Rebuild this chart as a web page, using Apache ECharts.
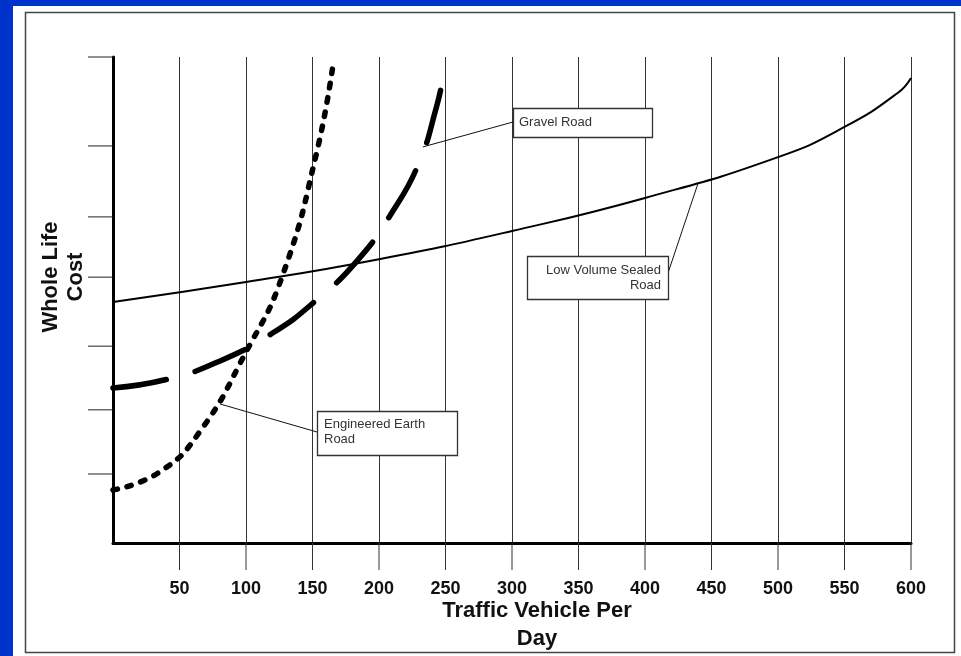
<!DOCTYPE html>
<html><head><meta charset="utf-8">
<script src="https://cdn.jsdelivr.net/npm/echarts@6/dist/echarts.min.js"></script>
<style>html,body{margin:0;padding:0;background:#0033cc}#c{width:961px;height:656px}</style>
</head><body><div id="c"></div>
<script>
// ---- data (x: vehicles/day, y: relative whole life cost 0..100) ----
const xTicks = [50,100,150,200,250,300,350,400,450,500,550,600];
const yTicks = [14.2,27.4,40.5,54.7,67.1,81.7,100];

const sealedX = [0,100,200,300,400,500,550,590,600];
const sealedY = [49.6,53.7,58.4,64.2,71.0,79.4,85.6,92.6,95.7];

const gravelX = [0,41,80,120,153,184,210,230,243,248];
const gravelY = [31.9,33.7,37.4,43.2,50.0,58.2,68.1,78.2,89.5,95.5];

const earthX = [0,35,65,100,127,153,166];
const earthY = [10.9,14.6,22.8,39.3,54.7,80.2,99.5];

const notes = [
  {text:'Gravel Road', at:[233,81.5], box:[513,108,139,29], from:[513,122], align:'left', pad:[6,14.5]},
  {text:'Low Volume Sealed\nRoad', at:[440,74.1], box:[527,256,141,43], from:[668,273], align:'right', pad:[134,22]},
  {text:'Engineered Earth\nRoad', at:[80.5,28.6], box:[317,411,140,44], from:[317,432], align:'left', pad:[7,21]}
];

const FONT = '"Liberation Sans", Arial, sans-serif';
const chart = echarts.init(document.getElementById('c'), null, {renderer:'canvas'});

const pairs = (xs, ys) => xs.map((x,i)=>[x, ys[i]]);

const option = {
  backgroundColor:'#0033cc',
  animation:false,
  grid:{left:113, right:50, top:57, bottom:113},
  xAxis:{
    type:'value', min:0, max:600, interval:50,
    axisLine:{show:true, onZero:false, lineStyle:{color:'#000', width:3}},
    axisTick:{show:false},
    axisLabel:{show:true, margin:37, fontFamily:FONT, fontWeight:'bold', fontSize:18, color:'#111',
      formatter:v=> v===0 ? '' : String(v), showMaxLabel:true},
    splitLine:{show:true, lineStyle:{color:'#333', width:1}}
  },
  yAxis:{
    type:'value', min:0, max:100,
    axisLine:{show:true, onZero:false, lineStyle:{color:'#000', width:3}},
    axisTick:{show:false}, axisLabel:{show:false}, splitLine:{show:false}
  },
  series:[
    {type:'custom', clip:false, silent:true, z:1,
      data: xTicks.map(x=>[x,0]),
      renderItem:(p,api)=>{const c=api.coord([api.value(0),api.value(1)]);
        return {type:'line', shape:{x1:c[0],y1:c[1],x2:c[0],y2:c[1]+27}, style:{stroke:'#333',lineWidth:1}};}},
    {type:'custom', clip:false, silent:true, z:1,
      data: yTicks.map(y=>[0,y]),
      renderItem:(p,api)=>{const c=api.coord([api.value(0),api.value(1)]);
        return {type:'line', shape:{x1:c[0]-25,y1:c[1],x2:c[0],y2:c[1]}, style:{stroke:'#222',lineWidth:1}};}},
    {name:'Low Volume Sealed Road', type:'line', data:pairs(sealedX,sealedY), showSymbol:false,
      smooth:0.5, lineStyle:{color:'#000', width:2}},
    {name:'Gravel Road', type:'line', data:pairs(gravelX,gravelY), showSymbol:false,
      smooth:0.5, lineStyle:{color:'#000', width:5.5, type:[54,30], cap:'round'}},
    {name:'Engineered Earth Road', type:'line', data:pairs(earthX,earthY), showSymbol:false,
      smooth:0.5, lineStyle:{color:'#000', width:5.5, type:[4.5,10], cap:'round'}}
  ]
};
chart.setOption(option);

const g = [
  {type:'rect', z:-10, silent:true, shape:{x:13,y:6,width:948,height:650}, style:{fill:'#fff'}},
  {type:'rect', z:-9, silent:true, shape:{x:25.5,y:12.5,width:929,height:640}, style:{fill:'none', stroke:'#444', lineWidth:1.5}},
  {type:'text', z:50, style:{text:'Traffic Vehicle Per\nDay', x:537, y:597, align:'center', verticalAlign:'top',
    font:'bold 22px '+FONT, lineHeight:28, fill:'#111'}},
  {type:'text', z:50, x:63, y:277, rotation:Math.PI/2, style:{text:'Whole Life\nCost', x:0, y:0, align:'center', verticalAlign:'middle',
    font:'bold 22px '+FONT, lineHeight:25, fill:'#111'}}
];
notes.forEach(n=>{
  const a = chart.convertToPixel({gridIndex:0}, n.at);
  g.push({type:'line', z:60, silent:true, shape:{x1:n.from[0],y1:n.from[1],x2:a[0],y2:a[1]}, style:{stroke:'#111', lineWidth:1}});
  g.push({type:'rect', z:61, silent:true, shape:{x:n.box[0]+0.5,y:n.box[1]+0.5,width:n.box[2],height:n.box[3]},
    style:{fill:'#fff', stroke:'#333', lineWidth:1.3}});
  g.push({type:'text', z:62, silent:true, style:{text:n.text, x:n.box[0]+n.pad[0], y:n.box[1]+n.pad[1],
    align:n.align, verticalAlign:'middle', font:'13px '+FONT, lineHeight:15, fill:'#333'}});
});
chart.setOption({graphic:g});
</script></body></html>
